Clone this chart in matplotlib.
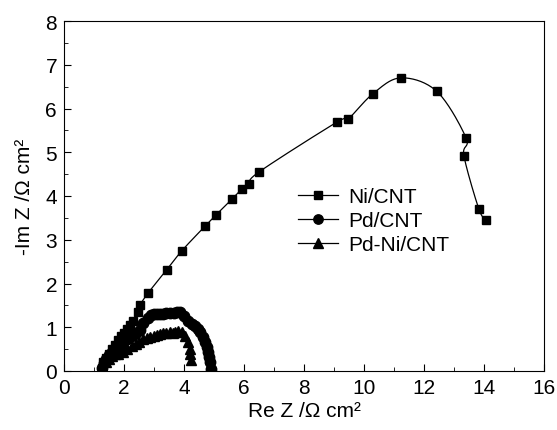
import numpy as np
import matplotlib.pyplot as plt
from matplotlib.ticker import MultipleLocator

plt.rcParams['font.family'] = ['Liberation Sans', 'DejaVu Sans']

# Ni/CNT
ni_x = [1.25, 1.3, 1.4, 1.5, 1.6, 1.7, 1.8, 1.9, 2.0, 2.1, 2.2, 2.3, 2.47, 2.53,
        2.8, 3.43, 3.93, 4.7, 5.07, 5.6, 5.93, 6.17, 6.5, 9.1, 9.47, 10.3, 11.23,
        12.43, 13.4, 13.33, 13.83, 14.07]
ni_y = [0.08, 0.2, 0.3, 0.4, 0.5, 0.6, 0.7, 0.8, 0.87, 0.95, 1.05, 1.15, 1.35, 1.5,
        1.78, 2.32, 2.75, 3.31, 3.57, 3.93, 4.16, 4.27, 4.55, 5.69, 5.76, 6.34, 6.70,
        6.39, 5.33, 4.92, 3.70, 3.46]

# Pd/CNT
pd_x = [1.28, 1.32, 1.4, 1.5, 1.6, 1.7, 1.8, 1.9, 2.0, 2.1, 2.2, 2.3, 2.4, 2.53,
        2.63, 2.8, 2.9, 3.0, 3.1, 3.2, 3.3, 3.4, 3.53, 3.65, 3.75, 3.87, 4.0, 4.13,
        4.25, 4.37, 4.45, 4.53, 4.62, 4.7, 4.76, 4.8, 4.84, 4.88, 4.9]
pd_y = [0.08, 0.18, 0.28, 0.36, 0.44, 0.5, 0.56, 0.62, 0.68, 0.73, 0.78, 0.83, 0.88, 0.93,
        1.1, 1.22, 1.27, 1.3, 1.3, 1.31, 1.3, 1.32, 1.33, 1.33, 1.34, 1.35, 1.25, 1.14,
        1.08, 1.03, 0.95, 0.89, 0.78, 0.66, 0.55, 0.43, 0.33, 0.2, 0.05]

# Pd-Ni/CNT
pdni_x = [1.3, 1.4, 1.5, 1.6, 1.7, 1.8, 1.97, 2.1, 2.27, 2.4, 2.5, 2.63, 2.75, 2.87,
          3.0, 3.1, 3.2, 3.3, 3.4, 3.53, 3.63, 3.7, 3.8, 3.93, 4.03, 4.13, 4.2, 4.2, 4.22]
pdni_y = [0.08, 0.2, 0.28, 0.34, 0.38, 0.4, 0.43, 0.5, 0.57, 0.62, 0.66, 0.73, 0.76, 0.78,
          0.8, 0.82, 0.84, 0.86, 0.86, 0.89, 0.87, 0.9, 0.92, 0.89, 0.8, 0.66, 0.5, 0.38, 0.26]


def smooth(x, y, n=20):
    # Catmull-Rom through the points, for the connecting line only
    p = np.column_stack([x, y])
    p = np.vstack([p[0], p, p[-1]])
    out = []
    for i in range(1, len(p) - 2):
        p0, p1, p2, p3 = p[i - 1], p[i], p[i + 1], p[i + 2]
        t = np.linspace(0, 1, n, endpoint=False)[:, None]
        out.append(0.5 * ((2 * p1) + (-p0 + p2) * t + (2 * p0 - 5 * p1 + 4 * p2 - p3) * t ** 2
                          + (-p0 + 3 * p1 - 3 * p2 + p3) * t ** 3))
    out.append(p[-2][None, :])
    out = np.vstack(out)
    return out[:, 0], out[:, 1]


fig = plt.figure(figsize=(5.57, 4.31), dpi=100)
ax = fig.add_axes([64 / 557, 59 / 431, 480 / 557, 350 / 431])

for xs, ys, m, ms, lab in [(ni_x, ni_y, 's', 6, 'Ni/CNT'),
                           (pd_x, pd_y, 'o', 7.5, 'Pd/CNT'),
                           (pdni_x, pdni_y, '^', 7.5, 'Pd-Ni/CNT')]:
    sx, sy = smooth(xs, ys)
    ax.plot(sx, sy, color='k', lw=0.9)
    ax.plot(xs, ys, m, color='k', ms=ms, ls='none')
    ax.plot([], [], color='k', lw=0.9, marker=m, ms=ms * 0.9, label=lab)

ax.set_xlim(0, 16)
ax.set_ylim(0, 8)
ax.xaxis.set_major_locator(MultipleLocator(2))
ax.xaxis.set_minor_locator(MultipleLocator(1))
ax.yaxis.set_major_locator(MultipleLocator(1))
ax.yaxis.set_minor_locator(MultipleLocator(0.5))
ax.tick_params(which='both', direction='in', labelsize=15, top=False, right=False)
ax.tick_params(which='major', length=5, pad=5)
ax.tick_params(which='minor', length=3)
ax.set_xlabel('Re Z /Ω cm²', fontsize=15, labelpad=3)
ax.set_ylabel('-Im Z /Ω cm²', fontsize=15, labelpad=8)

ax.legend(loc='upper left', bbox_to_anchor=(0.47, 0.55), frameon=False, fontsize=15,
          handlelength=1.9, handletextpad=0.5, labelspacing=0.25, borderaxespad=0)

fig.savefig('out.png', dpi=100)
